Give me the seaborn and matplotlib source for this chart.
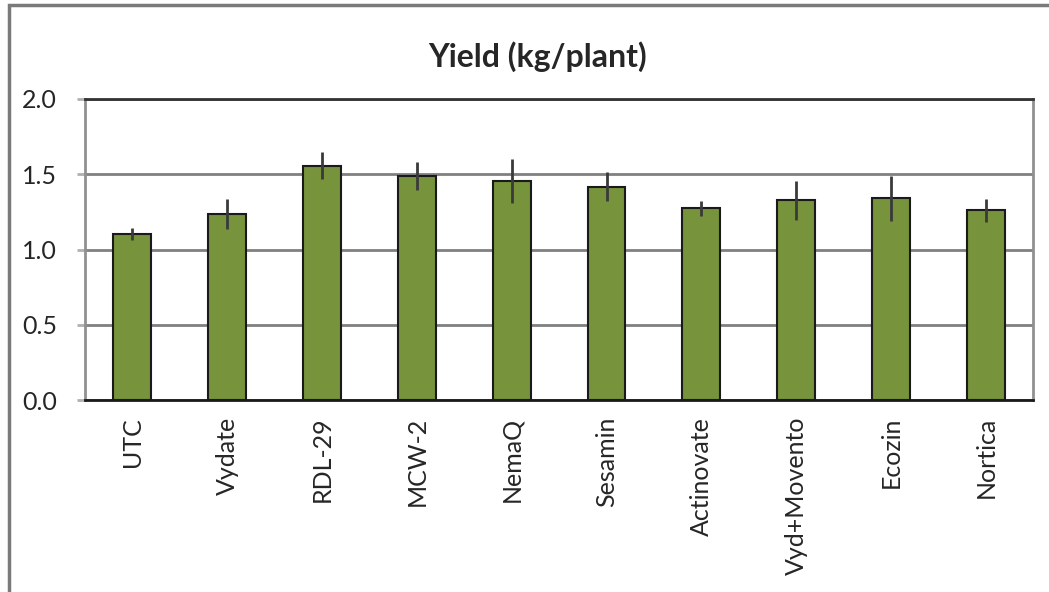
import numpy as np
import pandas as pd
import matplotlib
matplotlib.use("Agg")
import matplotlib.pyplot as plt
import seaborn as sns
from matplotlib.patches import Rectangle

treatments = ['UTC', 'Vydate', 'RDL-29', 'MCW-2', 'NemaQ', 'Sesamin',
              'Actinovate', 'Vyd+Movento', 'Ecozin', 'Nortica']
yield_kg = [1.10, 1.235, 1.555, 1.488, 1.457, 1.417, 1.274, 1.327, 1.340, 1.260]
yield_err = [0.04, 0.10, 0.09, 0.09, 0.145, 0.095, 0.05, 0.13, 0.148, 0.078]

sns.set_theme(style='white')
plt.rcParams['font.family'] = ['Lato', 'DejaVu Sans']

df = pd.DataFrame({'treatment': treatments, 'yield': yield_kg, 'err': yield_err})

fig = plt.figure(figsize=(10.49, 5.92), dpi=100)
ax = fig.add_axes([0.081, 0.324, 0.904, 0.509])

sns.barplot(data=df, x='treatment', y='yield', color='#77933C', saturation=1,
            width=0.4, edgecolor='#1a1a1a', linewidth=1.5, ax=ax, zorder=3)
ax.errorbar(np.arange(len(df)), df['yield'], yerr=df['err'], fmt='none',
            ecolor='#3a3a3a', elinewidth=2, capsize=0, zorder=4)

ax.set_ylim(0, 2.0)
ax.set_xlim(-0.5, len(df) - 0.5)
ax.set_yticks([0.0, 0.5, 1.0, 1.5, 2.0])
ax.set_yticklabels(['0.0', '0.5', '1.0', '1.5', '2.0'], fontsize=18)
ax.yaxis.grid(True, color='#808080', linewidth=2, zorder=0)
ax.set_axisbelow(True)

# ticks sit between categories, labels at centres
ax.set_xticks(np.arange(len(df)))
ax.set_xticklabels(treatments, rotation=90, fontsize=18)
ax.tick_params(axis='x', length=0, pad=12)
ax.set_xticks(np.arange(len(df) + 1) - 0.5, minor=True)
ax.tick_params(axis='x', which='minor', length=6, width=2, color='#808080', direction='out')
ax.tick_params(axis='y', length=6, width=2, color='#b0b0b0', direction='out', left=True, pad=14)

ax.set_xlabel('')
ax.set_ylabel('')
ax.spines['top'].set_color('#333333')
ax.spines['top'].set_linewidth(2)
ax.spines['right'].set_color('#909090')
ax.spines['right'].set_linewidth(2)
ax.spines['left'].set_color('#909090')
ax.spines['left'].set_linewidth(2)
ax.spines['bottom'].set_color('#1a1a1a')
ax.spines['bottom'].set_linewidth(2)

fig.text(0.512, 0.905, 'Yield (kg/plant)', ha='center', va='center',
         fontsize=23, fontweight='bold')

# outer chart frame, cropped at right and bottom
fig.patches.append(Rectangle((9 / 1049, -0.05), 1.2, 1 - 5 / 592 + 0.05,
                             transform=fig.transFigure, fill=False,
                             edgecolor='#7a7a7a', linewidth=2.5))

fig.savefig('out.png', dpi=100)
